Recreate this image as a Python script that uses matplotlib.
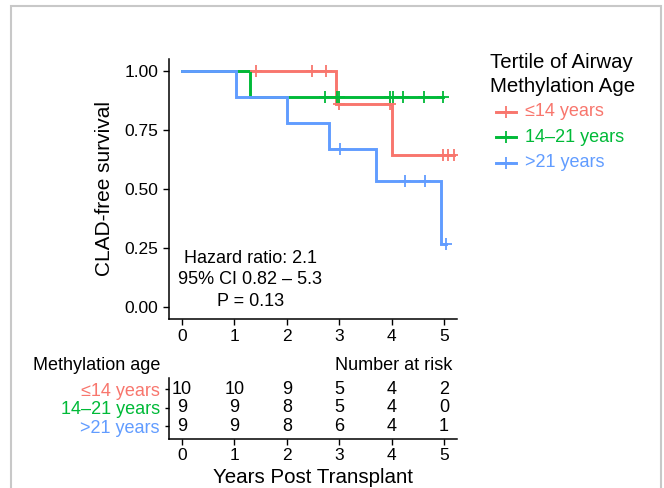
import matplotlib
matplotlib.use('Agg')
import matplotlib.pyplot as plt
from matplotlib.lines import Line2D
from matplotlib.patches import Rectangle
import numpy as np

plt.rcParams['font.family'] = ['Liberation Sans', 'DejaVu Sans']

groups = ['≤14 years', '14–21 years', '>21 years']
colors = ['#F8766D', '#00BA38', '#619CFF']

# follow-up (years) and status (1 = CLAD, 0 = censored)
times_low = [1.41, 2.49, 2.75, 2.94, 2.99, 3.98, 4.01, 4.99, 5.08, 5.2]
status_low = [0, 0, 0, 1, 0, 0, 1, 0, 0, 0]
times_mid = [1.29, 2.72, 2.96, 2.99, 3.98, 4.03, 4.21, 4.62, 4.99]
status_mid = [1, 0, 0, 0, 0, 0, 0, 0, 0]
times_high = [1.03, 2.0, 2.8, 3.01, 3.7, 4.26, 4.63, 4.95, 5.04]
status_high = [1, 1, 1, 0, 1, 0, 0, 1, 0]

risk_times = [0, 1, 2, 3, 4, 5]
y_ticks = [0, 0.25, 0.5, 0.75, 1.0]
stats_lines = ['Hazard ratio: 2.1', '95% CI 0.82 – 5.3', 'P = 0.13']

all_times = [times_low, times_mid, times_high]
all_status = [status_low, status_mid, status_high]


def km(times, status):
    t = np.array(times)
    e = np.array(status)
    xs, ys = [0.0], [1.0]
    s = 1.0
    for u in np.unique(t[e == 1]):
        n = np.sum(t >= u)
        d = np.sum((t == u) & (e == 1))
        s *= 1 - d / n
        xs.append(u)
        ys.append(s)
    xs.append(t.max())
    ys.append(s)
    return np.array(xs), np.array(ys)


W, H = 664, 488
fig = plt.figure(figsize=(W / 100, H / 100), dpi=100)

def fx(px):
    return px / W

def fy(py):
    return 1 - py / H

ax = fig.add_axes([fx(169), fy(318.5), fx(457) - fx(169), fy(58.9) - fy(318.5)])

for i in range(3):
    xs, ys = km(all_times[i], all_status[i])
    ax.step(xs, ys, where='post', color=colors[i], lw=2.1, solid_joinstyle='miter')

for i in range(3):
    xs, ys = km(all_times[i], all_status[i])
    t = np.array(all_times[i])
    e = np.array(all_status[i])
    cens = t[e == 0]
    sv = ys[np.searchsorted(xs, cens, side='right') - 1]
    ax.plot(cens, sv, ls='none', marker='+', ms=9, mew=1.3, color=colors[i])

ax.set_xlim(-0.25, 5.25)
ax.set_ylim(-0.05, 1.05)
ax.set_xticks(risk_times)
ax.set_yticks(y_ticks)
ax.set_yticklabels(['%.2f' % v for v in y_ticks])
ax.tick_params(labelsize=12.5, length=4, width=1, color='black', labelcolor='black')
for side in ['top', 'right']:
    ax.spines[side].set_visible(False)
for side in ['left', 'bottom']:
    ax.spines[side].set_linewidth(1.1)
ax.set_ylabel('CLAD-free survival', fontsize=15)
ax.yaxis.set_label_coords(-0.19, 0.5)

for line_y, line_text in zip([0.206, 0.117, 0.024], stats_lines):
    ax.text(1.3, line_y, line_text, ha='center', va='center', fontsize=13)

# number at risk table
axr = fig.add_axes([fx(169), fy(439), fx(457) - fx(169), fy(378) - fy(439)])
rows = [3, 2, 1]
for i in range(3):
    t = np.array(all_times[i])
    for rt in risk_times:
        axr.text(rt, rows[i], str(int(np.sum(t >= rt))), ha='center', va='center', fontsize=13)
axr.set_xlim(-0.25, 5.25)
axr.set_ylim(0.3, 3.6)
axr.set_xticks(risk_times)
axr.set_yticks(rows)
axr.set_yticklabels(groups)
for lab, c in zip(axr.get_yticklabels(), colors):
    lab.set_color(c)
axr.tick_params(axis='y', labelsize=13, length=3, width=1)
axr.tick_params(axis='x', labelsize=12.5, length=4, width=1, pad=2.5)
for side in ['top', 'right']:
    axr.spines[side].set_visible(False)
for side in ['left', 'bottom']:
    axr.spines[side].set_linewidth(1.1)
axr.set_xlabel('Years Post Transplant', fontsize=14.8)
axr.xaxis.set_label_coords(0.5, -0.47)

fig.text(fx(33), fy(366), 'Methylation age', ha='left', va='center', fontsize=13)
fig.text(fx(452), fy(366), 'Number at risk', ha='right', va='center', fontsize=13)

# legend
fig.text(fx(490), fy(62), 'Tertile of Airway', ha='left', va='center', fontsize=14.7)
fig.text(fx(490), fy(87), 'Methylation Age', ha='left', va='center', fontsize=14.7)
for i, ly in enumerate([111.7, 137.3, 162.7]):
    fig.add_artist(Line2D([fx(496), fx(516)], [fy(ly), fy(ly)], color=colors[i], lw=2.1,
                          transform=fig.transFigure))
    fig.add_artist(Line2D([fx(506)], [fy(ly)], marker='+', ms=9, mew=1.3, color=colors[i],
                          transform=fig.transFigure))
    fig.text(fx(525), fy(ly), groups[i], color=colors[i], ha='left', va='center', fontsize=13)

fig.add_artist(Rectangle((fx(11), -0.1), fx(661) - fx(11), fy(6) + 0.1, transform=fig.transFigure,
                         fill=False, ec='#c8c8c8', lw=1.5))

fig.savefig('out.png', dpi=100)
